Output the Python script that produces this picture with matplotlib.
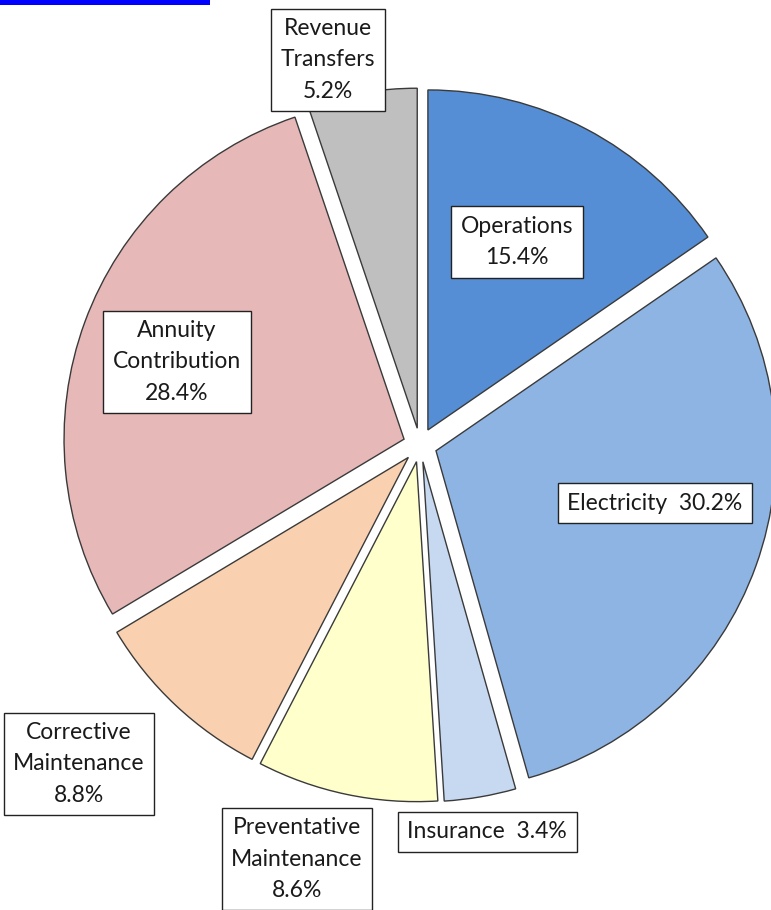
import matplotlib
matplotlib.use("Agg")
import matplotlib.pyplot as plt
from matplotlib.patches import Rectangle

categories = ["Operations", "Electricity", "Insurance", "Preventative\nMaintenance",
              "Corrective\nMaintenance", "Annuity\nContribution", "Revenue\nTransfers"]
shares = [15.4, 30.2, 3.4, 8.6, 8.8, 28.4, 5.2]
colors = ["#558ED5", "#8EB4E3", "#C6D9F1", "#FFFFCC", "#FAD1B0", "#E6B9B8", "#BFBFBF"]

W, H = 771, 910
fig = plt.figure(figsize=(W / 100, H / 100), dpi=100)
ax = fig.add_axes([0, 0, 1, 1])

cx, cy, R = 420, H - 445, 340
ax.pie(shares, startangle=90, counterclock=False, radius=R, center=(cx, cy),
       explode=[17] * len(shares), colors=colors,
       wedgeprops=dict(edgecolor="#3a3a3a", linewidth=1.0))
ax.set_xlim(0, W)
ax.set_ylim(0, H)
ax.set_aspect("auto")
ax.axis("off")

# label positions (pixel centers from top-left)
label_pos = [(517, 242), (655, 503), (487, 832), (297, 859),
             (79, 764), (177, 362), (328, 60)]
for name, val, (px, py) in zip(categories, shares, label_pos):
    if "\n" in name or name == "Operations":
        txt = f"{name}\n{val:.1f}%"
    else:
        txt = f"{name}  {val:.1f}%"
    ax.text(px, H - py, txt, ha="center", va="center", fontsize=16.5,
            family="Lato", color="#1a1a1a", linespacing=1.6,
            bbox=dict(boxstyle="square,pad=0.42", facecolor="white",
                      edgecolor="#222222", linewidth=1.0), zorder=5)

# blue underline artifact at top-left
ax.add_patch(Rectangle((0, H - 5), 210, 5, facecolor="#0000FF", edgecolor="none",
                       clip_on=False))

fig.savefig("out.png", dpi=100)
